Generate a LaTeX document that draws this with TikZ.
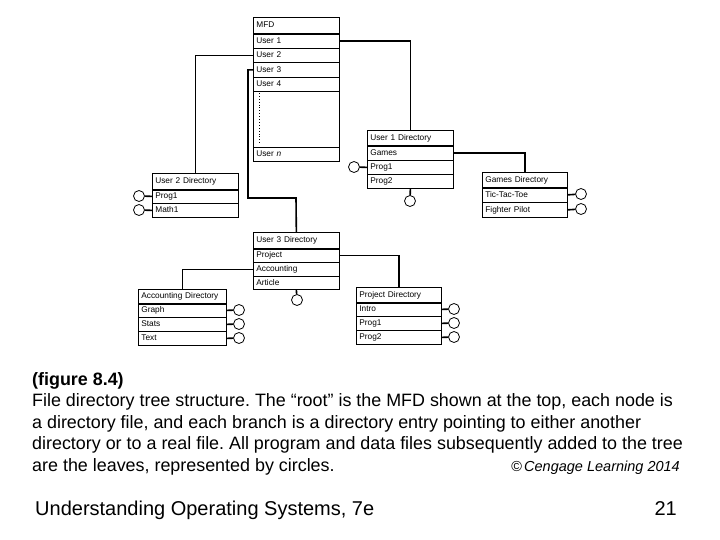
\documentclass[tikz,border=0pt]{standalone}
\usepackage{fontspec}
\setmainfont{Liberation Sans}
\frenchspacing
\begin{document}
\begin{tikzpicture}[x=1pt,y=-1pt,
  cell/.style={draw, line width=0.7pt, inner xsep=3pt, inner ysep=0pt, anchor=north west, align=left, font=\fontsize{8.3}{9}\selectfont, text height=6pt, text depth=1pt},
  conn/.style={line width=1.6pt},
  leaf/.style={circle, draw, line width=0.8pt, minimum size=11pt, inner sep=0pt}]
\useasboundingbox (0,0) rectangle (720,540);
\newcommand\cel[6]{\node[cell, text width=#4-6pt, minimum height=#5] (#1) at (#2,#3) {#6};}
% MFD
\cel{mh}{253}{17}{86pt}{16pt}{MFD}
\cel{m1}{253}{33}{86pt}{15pt}{User 1}
\cel{m2}{253}{48}{86pt}{14pt}{User 2}
\cel{m3}{253}{62}{86pt}{15pt}{User 3}
\cel{m4}{253}{77}{86pt}{14pt}{User 4}
\cel{mb}{253}{91}{86pt}{56pt}{}
\cel{mn}{253}{147}{86pt}{14pt}{User \textit{n}}
\draw[line width=0.7pt] (253,34.5) -- (339,34.5);
\draw[dotted, line width=0.9pt] (259,93) -- (259,144);
% User 1 Directory
\cel{u1h}{367}{130}{86pt}{15pt}{User 1 Directory}
\cel{u1a}{367}{145}{86pt}{15pt}{Games}
\cel{u1b}{367}{160}{86pt}{14pt}{Prog1}
\cel{u1c}{367}{174}{86pt}{14pt}{Prog2}
\draw[line width=0.7pt] (367,146.5) -- (453,146.5);
% Games Directory
\cel{gh}{482}{172}{85pt}{15pt}{Games Directory}
\cel{ga}{482}{187}{85pt}{15pt}{Tic-Tac-Toe}
\cel{gb}{482}{202}{85pt}{15pt}{Fighter Pilot}
\draw[line width=0.7pt] (482,188.5) -- (567,188.5);
% User 2 Directory
\cel{u2h}{152}{173}{86pt}{16pt}{User 2 Directory}
\cel{u2a}{152}{189}{86pt}{14pt}{Prog1}
\cel{u2b}{152}{203}{86pt}{14pt}{Math1}
\draw[line width=0.7pt] (152,190.5) -- (238,190.5);
% User 3 Directory
\cel{u3h}{253}{232}{86pt}{16pt}{User 3 Directory}
\cel{u3a}{253}{248}{86pt}{14pt}{Project}
\cel{u3b}{253}{262}{86pt}{14pt}{Accounting}
\cel{u3c}{253}{276}{86pt}{13pt}{Article}
\draw[line width=0.7pt] (253,249.5) -- (339,249.5);
% Accounting Directory
\cel{ah}{138}{289}{88pt}{14pt}{Accounting Directory}
\cel{aa}{138}{303}{88pt}{14pt}{Graph}
\cel{ab}{138}{317}{88pt}{14pt}{Stats}
\cel{ac}{138}{331}{88pt}{14pt}{Text}
\draw[line width=0.7pt] (138,304.5) -- (226,304.5);
% Project Directory
\cel{ph}{356}{287}{85pt}{15pt}{Project Directory}
\cel{pa}{356}{302}{85pt}{14pt}{Intro}
\cel{pb}{356}{316}{85pt}{14pt}{Prog1}
\cel{pc}{356}{330}{85pt}{14pt}{Prog2}
\draw[line width=0.7pt] (356,303.5) -- (441,303.5);
% connectors between directories
\draw[conn] (m1.east) -| (u1h.north);
\draw[conn] (u1a.east) -| (gh.north);
\draw[conn] (m2.west) -| (u2h.north);
\draw[conn] (m3.west) -- ++(-5,0) |- (296,198) -- (u3h.north);
\draw[conn] (u3b.west) -| (ah.north);
\draw[conn] (u3a.east) -| (ph.north);
% leaves
\node[leaf] (l1) at (354,167) {}; \draw[conn] (l1) -- (u1b.west);
\node[leaf] (l2) at (410,201) {}; \draw[conn] (l2) -- (u1c.south);
\node[leaf] (l3) at (581,194) {}; \draw[conn] (l3) -- (ga.east);
\node[leaf] (l4) at (581,209) {}; \draw[conn] (l4) -- (gb.east);
\node[leaf] (l5) at (139,196) {}; \draw[conn] (l5) -- (u2a.west);
\node[leaf] (l6) at (139,210) {}; \draw[conn] (l6) -- (u2b.west);
\node[leaf] (l7) at (297,300) {}; \draw[conn] (l7) -- (u3c.south);
\node[leaf] (l8) at (239,310) {}; \draw[conn] (l8) -- (aa.east);
\node[leaf] (l9) at (239,324) {}; \draw[conn] (l9) -- (ab.east);
\node[leaf] (l10) at (239,338) {}; \draw[conn] (l10) -- (ac.east);
\node[leaf] (l11) at (454,309) {}; \draw[conn] (l11) -- (pa.east);
\node[leaf] (l12) at (454,323) {}; \draw[conn] (l12) -- (pb.east);
\node[leaf] (l13) at (454,337) {}; \draw[conn] (l13) -- (pc.east);
% caption
\begin{scope}[every node/.style={anchor=base west, inner sep=0pt, font=\fontsize{17.9}{20}\selectfont}]
\node (t1) at (32,385) {\textbf{(figure 8.4)}};
\node (t2) at (32,406) {File directory tree structure. The “root” is the MFD shown at the top, each node is};
\node (t3) at (32,428) {a directory file, and each branch is a directory entry pointing to either another};
\node (t4) at (32,449) {directory or to a real file. All program and data files subsequently added to the tree};
\node (t5) at (32,471) {are the leaves, represented by circles.};
\node[anchor=base east, font=\fontsize{14.5}{16}\selectfont\itshape] (t6) at (680,471) {©\,Cengage Learning 2014};
\node[font=\fontsize{20}{24}\selectfont] (f1) at (35,515) {Understanding Operating Systems, 7e};
\node[anchor=base east, font=\fontsize{20}{24}\selectfont] (f2) at (677,515) {21};
\end{scope}
\end{tikzpicture}
\end{document}
